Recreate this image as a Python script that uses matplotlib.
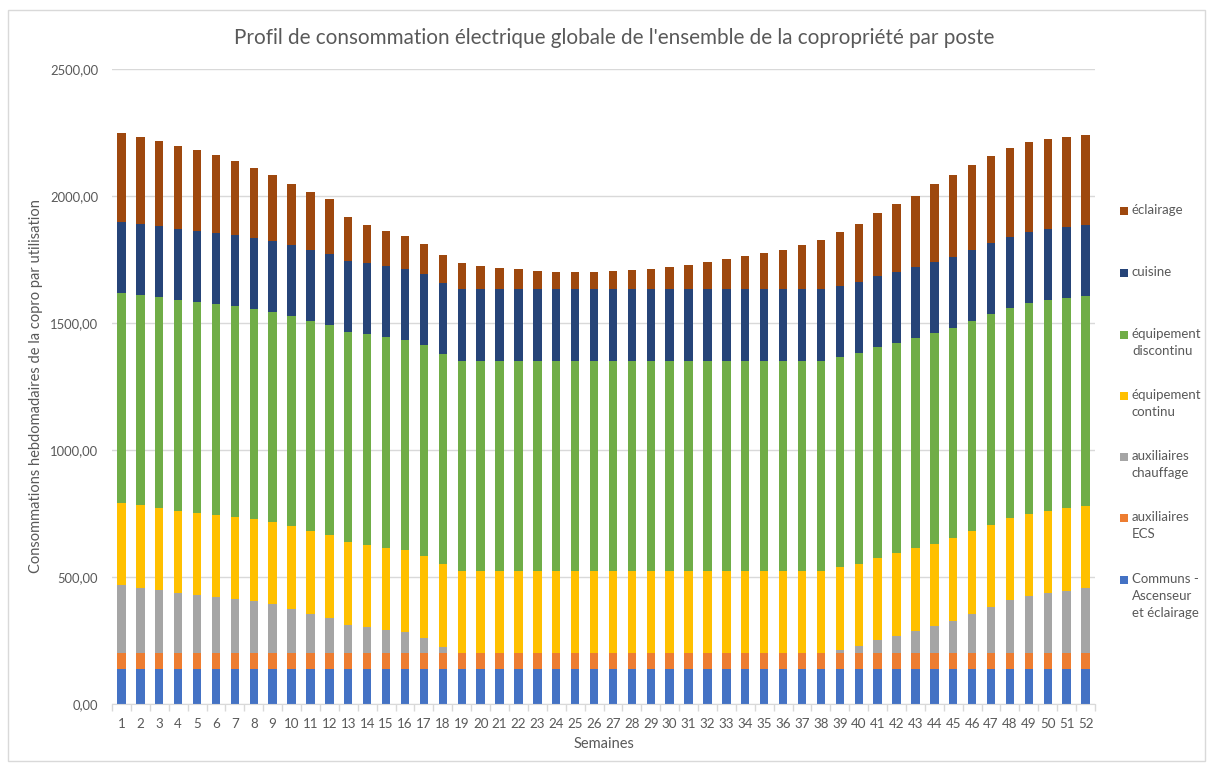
import matplotlib
matplotlib.use('Agg')
import matplotlib.pyplot as plt
from matplotlib.patches import Rectangle
from matplotlib.ticker import FuncFormatter, MultipleLocator
import numpy as np

plt.rcParams['font.family'] = ['Lato', 'DejaVu Sans']

weeks = list(range(1, 53))

communs = [137] * 52
ecs = [63] * 52
chauffage = [267, 258, 249, 237, 229, 221, 213, 204, 192, 175, 156, 140, 112, 103, 91, 82, 60, 26,
             0, 0, 0, 0, 0, 0, 0, 0, 0, 0, 0, 0, 0, 0, 0, 0, 0, 0, 0, 0,
             14, 28, 52, 69, 89, 107, 128, 156, 182, 208, 226, 237, 246, 255]
continu = [324] * 52
discontinu = [828] * 52
cuisine = [280] * 52
eclairage = [350, 342, 334, 327, 319, 308, 291, 276, 257, 239, 227, 215, 173, 151, 139, 128, 119, 111,
             103, 94, 86, 79, 74, 70, 69, 69, 71, 75, 81, 88, 98, 107, 119, 130, 142,
             157, 174, 193, 211, 231, 248, 267, 279, 308, 323, 333, 342, 348, 353, 354, 354, 353]

series_names = ['Communs -\nAscenseur\net éclairage', 'auxiliaires\nECS', 'auxiliaires\nchauffage',
                'équipement\ncontinu', 'équipement\ndiscontinu', 'cuisine', 'éclairage']
series_values = [communs, ecs, chauffage, continu, discontinu, cuisine, eclairage]
colors = ['#4472C4', '#ED7D31', '#A5A5A5', '#FFC000', '#70AD47', '#264478', '#9E480E']

txt = '#595959'
grid = '#D9D9D9'

fig = plt.figure(figsize=(12.08, 7.67), dpi=100)
ax = fig.add_axes([112 / 1208, 1 - 704 / 767, (1095 - 112) / 1208, (704 - 69) / 767])

bottom = np.zeros(52)
for vals, col in zip(series_values, colors):
    ax.bar(weeks, vals, width=0.444, bottom=bottom, color=col, linewidth=0, zorder=3)
    bottom += np.array(vals)

ax.set_xlim(0.5, 52.5)
ax.set_ylim(0, 2500)
ax.yaxis.set_major_locator(MultipleLocator(500))
ax.yaxis.set_major_formatter(FuncFormatter(lambda v, p: f'{v:.2f}'.replace('.', ',')))
ax.grid(axis='y', color=grid, linewidth=1, zorder=0)
for s in ['top', 'right', 'left']:
    ax.spines[s].set_visible(False)
ax.spines['bottom'].set_color(grid)
ax.spines['bottom'].set_zorder(4)

ax.set_xticks(weeks)
ax.set_xticklabels([str(w) for w in weeks])
ax.set_xticks(np.arange(0.5, 53, 1), minor=True)
ax.tick_params(axis='x', which='major', length=0, pad=10, labelsize=9.6, labelcolor=txt)
ax.tick_params(axis='x', which='minor', length=5, color=grid, width=1)
ax.tick_params(axis='y', length=0, pad=10, labelsize=9.4, labelcolor=txt)

ax.set_xlabel('Semaines', fontsize=10.5, color=txt, labelpad=5)
ax.set_ylabel('Consommations hebdomadaires de la copro par utilisation', fontsize=10.5, color=txt, labelpad=5)
fig.text(614 / 1208, 1 - 38 / 767, "Profil de consommation électrique globale de l'ensemble de la copropriété par poste",
         ha='center', va='center', fontsize=14.9, color=txt)

# legend drawn on the right, top to bottom
legend_y = [211, 273, 335, 396, 457, 518, 580]
for name, col, yy in zip(series_names[::-1], colors[::-1], legend_y):
    fig.patches.append(Rectangle((1120 / 1208, 1 - (yy + 4) / 767), 8 / 1208, 8 / 767,
                                 transform=fig.transFigure, facecolor=col, edgecolor='none'))
    fig.text(1132 / 1208, 1 - (yy - 7) / 767, name, ha='left', va='top', fontsize=9.5,
             color=txt, linespacing=1.5)

fig.patches.append(Rectangle((8 / 1208, 1 - 761 / 767), 1197 / 1208, 751 / 767,
                             transform=fig.transFigure, facecolor='none', edgecolor=grid, linewidth=1))

fig.savefig('out.png', dpi=100)
